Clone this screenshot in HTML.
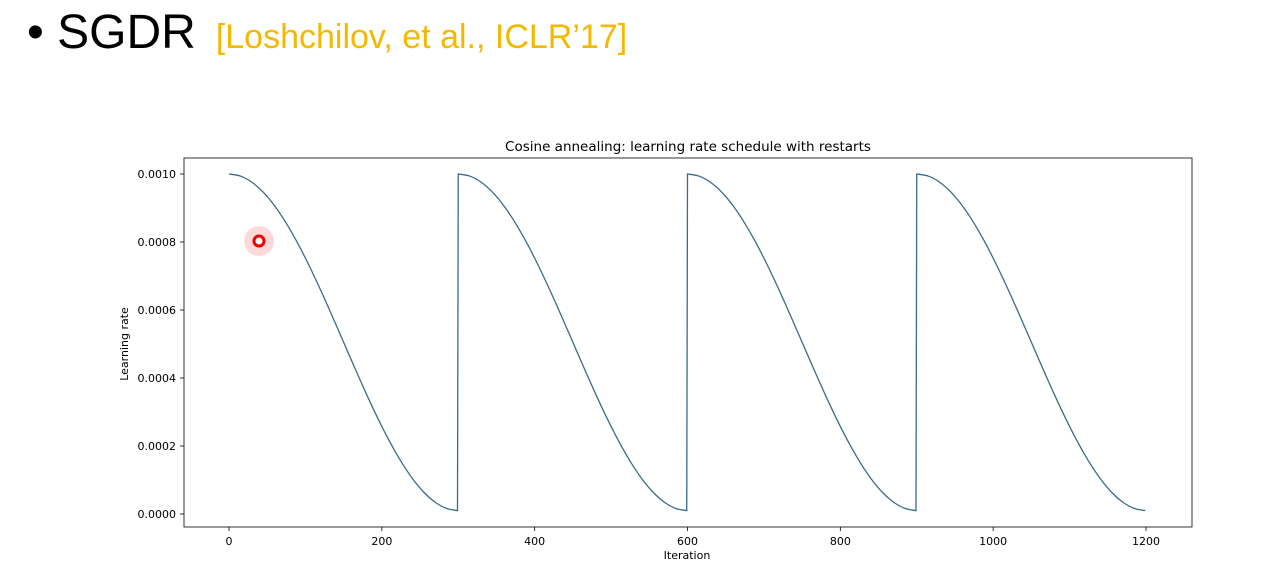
<!DOCTYPE html>
<html><head><meta charset="utf-8"><style>
body{margin:0;width:1270px;height:573px;background:#fff;overflow:hidden;font-family:"Liberation Sans","DejaVu Sans",sans-serif;}
#hdr{position:absolute;left:27px;top:5px;white-space:nowrap;}
</style></head><body>
<div id="hdr"><span style="font-size:48px;color:#000;">• SGDR</span><span style="font-size:34px;color:#f5b800;margin-left:20px;">[Loshchilov, et al., ICLR’17]</span></div>
<svg id="chart" width="1270" height="573" style="position:absolute;left:0;top:0;font-family:'DejaVu Sans',sans-serif" xmlns="http://www.w3.org/2000/svg"></svg>
<script>
const xTicks=[0,200,400,600,800,1000,1200];
const yTicks=[0,0.0002,0.0004,0.0006,0.0008,0.0010];
const yTickLabels=["0.0000","0.0002","0.0004","0.0006","0.0008","0.0010"];
const cycleOffsets=[0,300,600,900];
const cycleSteps=[0,15,30,45,60,75,90,105,120,135,150,165,180,195,210,225,240,255,270,285,299];
const cycleLr=[1.0,0.99391,0.97577,0.94605,0.90546,0.85502,0.79596,0.72973,0.65796,0.58243,0.505,0.42757,0.35204,0.28027,0.21404,0.15498,0.10454,0.06395,0.03423,0.01609,0.01];
const svg=document.getElementById('chart');
const NS='http://www.w3.org/2000/svg';
const L=184,R=1192,T=158,B=527;
const xs=v=>229+v*(1146-229)/1200;
const ys=v=>514-v*(340/0.001);
function mk(tag,attrs,text){const e=document.createElementNS(NS,tag);for(const k in attrs)e.setAttribute(k,attrs[k]);if(text!==undefined)e.textContent=text;svg.appendChild(e);return e;}
const frame=mk('rect',{x:L,y:T,width:R-L,height:B-T,fill:'none',stroke:'#000','stroke-width':0.8});


xTicks.forEach(t=>{const x=xs(t);
 const l=mk('line',{x1:x,x2:x,y1:B,y2:B+4,stroke:'#000','stroke-width':0.8});
 
 
 const tx=mk('text',{x:x,y:B+18,'font-size':11,'text-anchor':'middle',fill:'#000'},String(t));
 
 });
yTicks.forEach((t,i)=>{const y=ys(t);
 const l=mk('line',{x1:L-4,x2:L,y1:y,y2:y,stroke:'#000','stroke-width':0.8});
 
 
 const tx=mk('text',{x:L-8,y:y+4,'font-size':11,'text-anchor':'end',fill:'#000'},yTickLabels[i]);
 
 });
let d='';
cycleOffsets.forEach((o,c)=>{
 const pts=cycleSteps.map((s,k)=>[xs(o+s),ys(cycleLr[k]*0.001)]);
 d+=(c===0?'M':'L')+pts[0][0].toFixed(2)+','+pts[0][1].toFixed(2);
 for(let i=0;i<pts.length-1;i++){
  const p0=pts[Math.max(i-1,0)],p1=pts[i],p2=pts[i+1],p3=pts[Math.min(i+2,pts.length-1)];
  const c1=[p1[0]+(p2[0]-p0[0])/6,p1[1]+(p2[1]-p0[1])/6];
  const c2=[p2[0]-(p3[0]-p1[0])/6,p2[1]-(p3[1]-p1[1])/6];
  d+='C'+c1[0].toFixed(2)+','+c1[1].toFixed(2)+' '+c2[0].toFixed(2)+','+c2[1].toFixed(2)+' '+p2[0].toFixed(2)+','+p2[1].toFixed(2);
 }
});
const line=mk('path',{d:d,fill:'none',stroke:'#3a6c8a','stroke-width':1.3});


const tt=mk('text',{x:(L+R)/2,y:151,'font-size':13.5,'text-anchor':'middle',fill:'#000'},'Cosine annealing: learning rate schedule with restarts');


const xl=mk('text',{x:687,y:559,'font-size':11,'text-anchor':'middle',fill:'#000'},'Iteration');


const yl=mk('text',{x:0,y:0,'font-size':11,'text-anchor':'middle',fill:'#000',transform:'translate(128,344) rotate(-90)'},'Learning rate');


const g=mk('circle',{cx:259,cy:241,r:15,fill:'rgba(255,80,80,0.22)'});


const c=mk('circle',{cx:259,cy:241,r:5,fill:'#fff',stroke:'#e00','stroke-width':3});


</script>
</body></html>
